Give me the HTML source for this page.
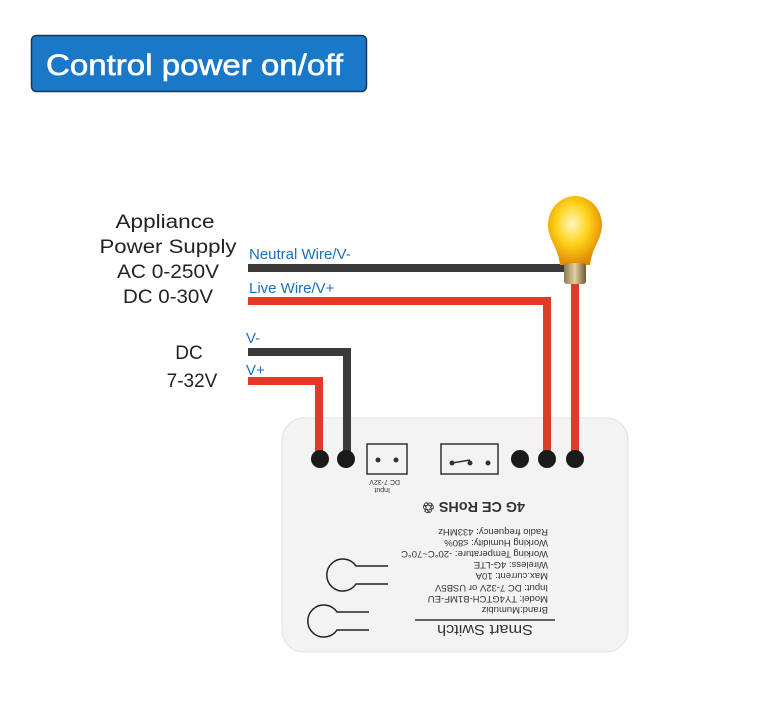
<!DOCTYPE html>
<html><head><style>
html,body{margin:0;padding:0;background:#fff;}
body{width:777px;height:700px;overflow:hidden;position:relative;font-family:"Liberation Sans",sans-serif;}
</style></head><body>
<svg width="777" height="700" viewBox="0 0 777 700" xmlns="http://www.w3.org/2000/svg">
<defs>
<radialGradient id="g" cx="0.45" cy="0.4" r="0.6">
<stop offset="0" stop-color="#fff7c0"/><stop offset="0.5" stop-color="#ffd21a"/><stop offset="1" stop-color="#e08a00"/>
</radialGradient>
<linearGradient id="b" x1="0" x2="1"><stop offset="0" stop-color="#8a7a50"/><stop offset="0.5" stop-color="#e0d0a0"/><stop offset="1" stop-color="#6a5a30"/></linearGradient>
</defs>
<rect x="31.5" y="35.5" width="335" height="56" rx="5" fill="#1a78c8" stroke="#1b3555" stroke-width="1.5"/>
<text x="46" y="75" font-size="30" fill="#fff" stroke="#fff" stroke-width="0.6" textLength="297" lengthAdjust="spacingAndGlyphs">Control power on/off</text>

<g font-size="19" fill="#222" text-anchor="middle">
<text x="165" y="228" textLength="99" lengthAdjust="spacingAndGlyphs">Appliance</text>
<text x="168" y="253" textLength="137" lengthAdjust="spacingAndGlyphs">Power Supply</text>
<text x="168" y="278" textLength="102" lengthAdjust="spacingAndGlyphs">AC 0-250V</text>
<text x="168" y="303" textLength="90" lengthAdjust="spacingAndGlyphs">DC 0-30V</text>
<text x="189" y="359">DC</text>
<text x="192" y="387">7-32V</text>
</g>
<g font-size="15" fill="#1a6fc0">
<text x="249" y="259">Neutral Wire/V-</text>
<text x="249" y="293">Live Wire/V+</text>
<text x="246" y="343">V-</text>
<text x="246" y="375">V+</text>
</g>

<rect x="282" y="418" width="346" height="234" rx="22" fill="#f3f3f3" stroke="#e2e2e2"/>

<g fill="none" stroke-width="8" stroke-linejoin="miter">
<polyline points="248,268 572,268" stroke="#3a3a3a"/>
<polyline points="248,301 547,301 547,458" stroke="#e03a28"/>
<polyline points="248,352 347,352 347,458" stroke="#3a3a3a"/>
<polyline points="248,381 319,381 319,458" stroke="#e03a28"/>
<polyline points="575,282 575,458" stroke="#e03a28"/>
</g>
<path d="M548,225 a27,29 0 1,1 54,0 c0,14 -10,22 -12,40 h-30 c-2,-18 -12,-26 -12,-40z" fill="url(#g)"/>
<rect x="564" y="263" width="22" height="21" rx="3" fill="url(#b)"/>

<g fill="#1a1a1a">
<circle cx="320" cy="459" r="9"/><circle cx="346" cy="459" r="9"/>
<circle cx="520" cy="459" r="9"/><circle cx="547" cy="459" r="9"/><circle cx="575" cy="459" r="9"/>
</g>
<rect x="367" y="444" width="40" height="30" fill="none" stroke="#333" stroke-width="1.5"/>
<circle cx="378" cy="460" r="2.5" fill="#333"/><circle cx="396" cy="460" r="2.5" fill="#333"/>
<rect x="441" y="444" width="57" height="30" fill="none" stroke="#333" stroke-width="1.5"/>
<circle cx="452" cy="463" r="2.5" fill="#333"/><circle cx="470" cy="463" r="2.5" fill="#333"/><circle cx="488" cy="463" r="2.5" fill="#333"/>
<line x1="452" y1="463" x2="470" y2="460" stroke="#333" stroke-width="1.5"/>

<g fill="#333" font-size="9.5">
<text transform="rotate(180 400 480)" x="400" y="480" font-size="7">DC 7-32V</text>
<text transform="rotate(180 390 488)" x="390" y="488" font-size="7">Input</text>
<text transform="rotate(180 525 502)" x="525" y="502" font-size="15" font-weight="bold" textLength="103" lengthAdjust="spacingAndGlyphs">4G  CE RoHS ♲</text>
<text transform="rotate(180 548 529)" x="548" y="529">Radio frequency: 433MHz</text>
<text transform="rotate(180 548 540)" x="548" y="540">Working Humidity: ≤80%</text>
<text transform="rotate(180 548 551)" x="548" y="551">Working Temperature: -20°C~70°C</text>
<text transform="rotate(180 548 562)" x="548" y="562">Wireless: 4G-LTE</text>
<text transform="rotate(180 548 573)" x="548" y="573">Max.current: 10A</text>
<text transform="rotate(180 548 585)" x="548" y="585">Input: DC 7-32V or USB5V</text>
<text transform="rotate(180 548 596)" x="548" y="596">Model: TY4GTCH-B1MF-EU</text>
<text transform="rotate(180 548 607)" x="548" y="607">Brand:Mumubiz</text>
<text transform="rotate(180 533 625)" x="533" y="625" font-size="15" textLength="96" lengthAdjust="spacingAndGlyphs">Smart Switch</text>
</g>
<line x1="415" y1="620" x2="555" y2="620" stroke="#333" stroke-width="1.5"/>
<g fill="none" stroke="#222" stroke-width="1.5">
<path d="M388,566 H356 A16,16 0 1,0 356,584 H388"/>
<path d="M369,612 H337 A16,16 0 1,0 337,630 H369"/>
</g>
</svg>
</body></html>
